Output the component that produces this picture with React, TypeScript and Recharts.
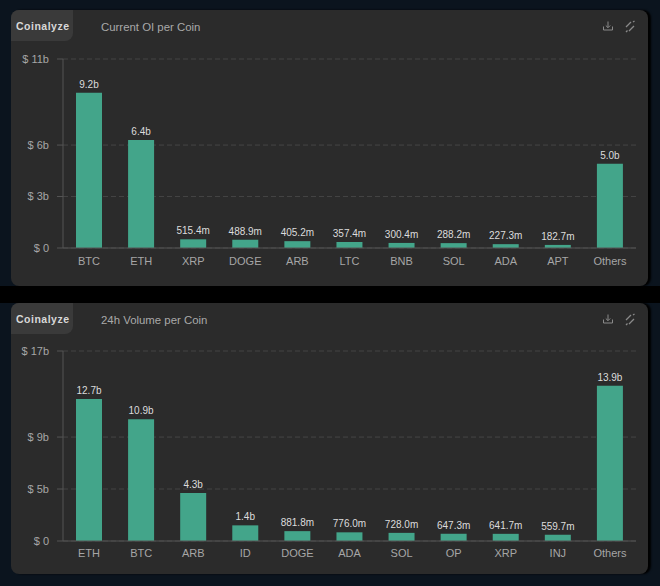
import React from "react";
import { BarChart, Bar, XAxis, YAxis, CartesianGrid, LabelList } from "recharts";

const oiCoins = ["BTC", "ETH", "XRP", "DOGE", "ARB", "LTC", "BNB", "SOL", "ADA", "APT", "Others"];
const oiValues = [9.2, 6.4, 0.5154, 0.4889, 0.4052, 0.3574, 0.3004, 0.2882, 0.2273, 0.1827, 5.0];
const oiTicks = [0, 3.05, 6.1, 11.2];

const volCoins = ["ETH", "BTC", "ARB", "ID", "DOGE", "ADA", "SOL", "OP", "XRP", "INJ", "Others"];
const volValues = [12.7, 10.9, 4.3, 1.4, 0.8818, 0.776, 0.728, 0.6473, 0.6417, 0.5597, 13.9];
const volTicks = [0, 4.65, 9.3, 17];

const font = "'Liberation Sans', Arial, sans-serif";

const money = (v: number) => (v >= 1 ? `${v.toFixed(1)}b` : `${(v * 1000).toFixed(1)}m`);

const Panel = ({ top, height, title, coins, values, ticks, plotTop, plotH, tickGap }: any) => {
  const data = coins.map((coin: string, i: number) => ({ coin, value: values[i] }));
  return (
    <>
      <div
        style={{
          position: "absolute",
          left: 11,
          top,
          width: 637,
          height,
          background: "#2b2b2b",
          borderRadius: 8,
          boxShadow: "3px 0 2px #000",
        }}
      />
      <div
        style={{
          position: "absolute",
          left: 11,
          top,
          width: 62,
          height: 31,
          background: "#3a3a3a",
          borderRadius: "8px 0 8px 0",
          color: "#d8d8d8",
          font: `bold 10.5px ${font}`,
          letterSpacing: 0.5,
          lineHeight: "33px",
          paddingLeft: 5,
          boxSizing: "border-box",
        }}
      >
        Coinalyze
      </div>
      <div
        style={{
          position: "absolute",
          left: 101,
          top: top + 10,
          color: "#a9a9a9",
          font: `11.4px ${font}`,
          lineHeight: "14px",
        }}
      >
        {title}
      </div>
      <svg style={{ position: "absolute", left: 600, top: top + 10 }} width={40} height={14} fill="none" stroke="#8a8a8a">
        <path d="M3.5 6.5v3.5h9v-3.5M8 1.5v6M5.8 5.5L8 7.7l2.2-2.2" />
        <path d="M26 7l5-5M29 11l5-5M26 12l1.5-1.5M33 2l1.5-1" strokeWidth={1.3} />
      </svg>
      <div style={{ position: "absolute", left: 0, top: plotTop - 10 }}>
        <BarChart
          width={660}
          height={plotH + 40}
          data={data}
          margin={{ top: 10, right: 24, bottom: 0, left: 0 }}
          barCategoryGap="25%"
        >
          <CartesianGrid vertical={false} stroke="#454545" strokeDasharray="5 3" />
          <XAxis
            dataKey="coin"
            interval={0}
            axisLine={{ stroke: "#555555" }}
            tickLine={false}
            tickMargin={tickGap}
            height={30}
            tick={{ fill: "#a6a6a6", fontSize: 11, fontFamily: font }}
          />
          <YAxis
            width={63}
            type="number"
            domain={[0, ticks[ticks.length - 1]]}
            ticks={ticks}
            interval={0}
            tickFormatter={(v: number) => `$ ${Math.round(v)}${v === 0 ? "" : "b"}`}
            axisLine={{ stroke: "#555555" }}
            tickLine={{ stroke: "#555555" }}
            tickSize={6}
            tickMargin={8}
            tick={{ fill: "#a6a6a6", fontSize: 11, fontFamily: font }}
          />
          <Bar dataKey="value" fill="#43a58a" barSize={26} isAnimationActive={false}>
            <LabelList
              dataKey="value"
              position="top"
              offset={5}
              formatter={money}
              style={{ fill: "#dcdcdc", fontSize: 10, fontFamily: font }}
            />
          </Bar>
        </BarChart>
      </div>
    </>
  );
};

const App = () => (
  <div style={{ position: "absolute", left: 0, top: 0, width: 660, height: 586, background: "#0b141e", overflow: "hidden" }}>
    <div style={{ position: "absolute", left: 0, top: 286, width: 660, height: 17, background: "#000" }} />
    <Panel top={10} height={276} title="Current OI per Coin" coins={oiCoins} values={oiValues} ticks={oiTicks} plotTop={59} plotH={189} tickGap={3} />
    <Panel top={303} height={271} title="24h Volume per Coin" coins={volCoins} values={volValues} ticks={volTicks} plotTop={351} plotH={190} tickGap={2} />
  </div>
);

export default App;
